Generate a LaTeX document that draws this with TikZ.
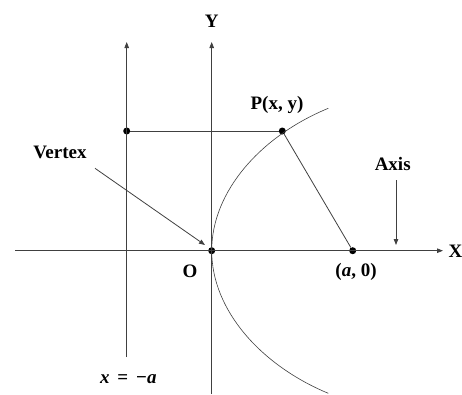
\documentclass[tikz,border=0pt]{standalone}
\usepackage{fontspec}
\setmainfont{Liberation Serif}
\usetikzlibrary{arrows.meta}
\begin{document}
\begin{tikzpicture}[x=1pt,y=-1pt,
  ln/.style={line width=0.8pt,draw=black!75},
  arr/.style={ln,-{Triangle[length=6pt,width=4.5pt]}},
  dotc/.style={circle,fill=black,inner sep=0pt,minimum size=7pt},
  lbl/.style={font=\fontsize{19}{22}\selectfont\bfseries,inner sep=0pt}]
\useasboundingbox (0,0) rectangle (462,394);
% named points
\node[dotc] (D) at (126.7,131) {};
\node[dotc] (P) at (282.3,131) {};
\node[dotc] (O) at (211.7,250.7) {};
\node[dotc] (F) at (352.7,250.7) {};
\coordinate (xl) at (15,250.7);
\coordinate (xr) at (443,250.7);
\coordinate (yt) at (211.7,42);
\coordinate (yb) at (211.7,394);
\coordinate (dt) at (126.7,42);
\coordinate (db) at (126.7,357);
\coordinate (pu) at (328.3,108.3);
\coordinate (pl) at (328.3,393.3);
% axes
\draw[arr] (xl) -- (xr);
\draw[arr] (yb) -- (yt);
\draw[arr] (db) -- (dt);
% parabola
\draw[ln,line width=0.6pt] (pu) .. controls (261.7,135.7) and (211.7,190.7) .. (O.center)
  .. controls (211.7,310.7) and (261.7,365.7) .. (pl);
% segments
\draw[ln] (D) -- (P);
\draw[ln] (P) -- (F);
% labels
\node[lbl] (Y) at (211.7,21) {Y};
\node[lbl,anchor=west] (X) at (448.5,251) {X};
\node[lbl] (Pl) at (277,105) {P(x, y)};
\node[lbl] (O1) at (190,271) {O};
\node[lbl] (Fl) at (356,272) {(\textit{a}, 0)};
\node[lbl] (dl) at (128.3,379) {\textit{x} \,= \,−\textit{a}};
\node[lbl] (V) at (60,152.5) {Vertex};
\node[lbl] (A) at (392.7,163.5) {Axis};
\coordinate (vs) at (95,168.3);
\coordinate (vt) at (205,245);
\draw[arr] (vs) -- (vt);
\coordinate (as) at (396,180);
\coordinate (at1) at (396,245);
\draw[arr] (as) -- (at1);
\end{tikzpicture}
\end{document}
